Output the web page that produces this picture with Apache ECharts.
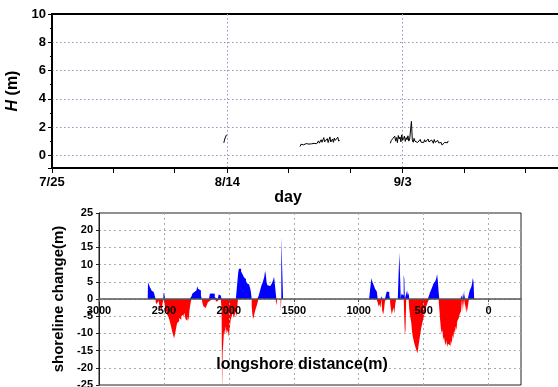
<!DOCTYPE html>
<html>
<head>
<meta charset="utf-8">
<script src="https://cdn.jsdelivr.net/npm/echarts@6/dist/echarts.min.js"></script>
<style>
  html, body { margin: 0; padding: 0; background: #fff; }
  #chart { width: 558px; height: 387px; }
</style>
</head>
<body>
<div id="chart"></div>
<script>
// ---- wave height (day 0 = 7/25), samples every 0.1 day ----
const dayTicks = [0, 20, 40, 60];
const dayLabels = ['7/25', '8/14', '9/3', '9/23'];
const dayMinorTicks = [0, 7, 14, 20, 27, 34, 40, 47, 54, 60];
const sampleStep = 0.1;
const seg1Start = 19.6;
const seg1H = [0.88, 1.15, 1.05, 1.45];
const seg2Start = 28.3;
const seg2H = [0.62, 0.78, 0.70, 0.85, 0.74, 0.80, 0.68, 0.83, 0.77, 0.90,
  0.79, 0.72, 0.86, 0.81, 0.75, 0.92, 0.84, 0.78, 0.95, 0.82,
  0.88, 1.02, 0.86, 0.80, 1.10, 0.92, 0.85, 1.25, 0.95, 0.88,
  1.05, 1.18, 0.90, 1.00, 1.30, 0.94, 0.98, 1.15, 0.92, 1.22,
  1.05, 0.96, 1.12, 1.28, 1.00, 1.08];
const seg3Start = 38.6;
const seg3H = [0.85, 1.05, 0.95, 1.20, 1.10, 1.35, 1.00, 1.25, 0.90, 1.40,
  1.15, 1.30, 0.95, 1.45, 1.05, 1.20, 1.35, 0.98, 1.25, 1.10,
  1.38, 1.00, 1.15, 1.05, 2.40, 1.10, 0.92, 1.20, 1.00, 0.95,
  1.08, 0.90, 1.02, 0.96, 1.12, 0.93, 0.98, 1.05, 0.90, 1.10,
  0.94, 1.00, 0.88, 1.15, 0.95, 1.02, 0.90, 1.08, 0.98, 0.85,
  1.12, 0.92, 0.96, 0.80, 1.05, 0.88, 0.95, 0.78, 0.90, 0.72,
  0.85, 0.75, 0.92, 0.82, 0.95, 0.88, 1.02];

// ---- shoreline change along the coast ----
const shoreDist = [2625, 2620, 2612, 2605, 2598, 2590, 2582, 2575, 2568, 2560,
  2552, 2545, 2538, 2530, 2522, 2515, 2508, 2500, 2493, 2487,
  2480, 2470, 2460, 2450, 2440, 2432, 2425, 2418, 2410, 2402,
  2395, 2387, 2378, 2370, 2362, 2354, 2346, 2338, 2330, 2322,
  2314, 2306, 2298, 2290, 2285, 2278, 2270, 2262, 2254, 2246,
  2240, 2234, 2226, 2218, 2212, 2205, 2198, 2190, 2182, 2174,
  2166, 2158, 2150, 2142, 2135, 2128, 2120, 2112, 2105, 2098,
  2090, 2082, 2074, 2066, 2058, 2054, 2050, 2046, 2040, 2034,
  2028, 2020, 2012, 2004, 1996, 1990, 1982, 1974, 1966, 1958,
  1950, 1942, 1934, 1931, 1926, 1920, 1915, 1909, 1902, 1895,
  1888, 1880, 1872, 1864, 1856, 1848, 1840, 1833, 1827, 1821,
  1816, 1811, 1805, 1798, 1790, 1782, 1775, 1768, 1760, 1752,
  1745, 1738, 1730, 1724, 1718, 1712, 1706, 1700, 1692, 1685,
  1678, 1670, 1662, 1655, 1648, 1642, 1637, 1631, 1625, 1602,
  1598, 1594, 1586, 1579, 1575, 920, 910, 904, 898, 892,
  885, 878, 871, 864, 857, 850, 843, 836, 829, 822,
  815, 808, 801, 794, 787, 781, 775, 768, 761, 755,
  748, 742, 736, 729, 722, 715, 708, 690, 684, 679,
  673, 668, 662, 656, 651, 647, 642, 637, 631, 624,
  618, 613, 608, 603, 598, 592, 586, 580, 574, 568,
  562, 556, 550, 545, 540, 534, 528, 522, 516, 510,
  504, 498, 492, 486, 480, 474, 468, 462, 455, 448,
  441, 434, 427, 420, 413, 406, 399, 393, 387, 382,
  376, 370, 364, 358, 352, 346, 340, 334, 328, 322,
  316, 310, 304, 298, 292, 286, 280, 274, 268, 262,
  256, 250, 244, 238, 232, 226, 220, 214, 208, 205,
  202, 199, 196, 193, 190, 187, 184, 181, 178, 172,
  166, 160, 154, 148, 142, 136, 130, 124, 118, 113,
  108, 100];
const shoreChange = [0, 4.8, 4.2, 3.5, 3.0, 2.4, 2.0, 1.8, 1.5, -0.8,
  -1.5, -1.0, -0.5, -2.0, -2.8, -3.5, -1.5, 1.8, 1.2, -2.5,
  -3.5, -4.5, -5.2, -6.5, -8, -9.5, -10.5, -11.5, -10, -8.5,
  -7, -6.5, -5.5, -6, -5, -4.5, -5.5, -4, -5.8, -6.3,
  -5, -6.2, -3, -1, 0.8, 1.5, 1.3, 2.0, 2.5, 2.8,
  3.7, 3.0, 2.6, 2.5, 1.0, -0.5, -1.5, -2.2, -2.6, -2.4,
  -1.8, -1.0, -0.5, 1.5, 1.4, 1.6, 1.2, 1.5, 0.5, -0.5,
  -0.8, -0.3, 1.3, 1.0, 1.2, -3, -27, -15.6, -13, -9,
  -10.5, -8, -10, -9, -11, -10.8, -6, -5, -4, -5.5,
  -4.5, -3.6, -5.2, -1, 7.5, 8.8, 9.2, 8.8, 8.0, 7.6,
  7.0, 6.3, 5.8, 5.2, 4.6, 4.2, 3.7, 3.2, 2.0, -2,
  -4.5, -5.8, -5.2, -4, -3, -2, -1, 0.8, 1.8, 3.0,
  4.0, 4.6, 5.5, 6.5, 8.2, 7.0, 4.8, 4.0, 4.5, 3.8,
  4.2, 4.4, 4.2, 5.5, 6.5, 6.8, 7.0, -1.9, 0, 0,
  -3.6, 18.1, 18.1, 0, 0, 0, 0, 4.5, 6.1, 5.0,
  4.5, 3.8, 3.0, 2.5, 2.2, -1, -2.2, -1.5, -2.6, 0.8,
  -3.5, -4.5, -3, -0.5, 1.2, 2.2, 2.4, 2.0, 1.0, -1,
  -3, -4.5, -4.0, -2.5, -4.2, -1.5, 0, 0, 13.5, 14.0,
  0, 1.5, 2.0, 1.0, 7.0, 6.0, -10.3, -9.0, 1.5, 2.5,
  1.0, 1.8, -3, -4.5, -5, -7, -9.5, -11, -12, -13,
  -13.5, -14.5, -15, -15.8, -14.5, -13, -11.5, -10, -8.5, -7.5,
  -6.5, -5.5, -4.5, -3.5, -2.5, -2, -1.2, -0.5, 1.0, 1.8,
  2.5, 3.0, 3.8, 4.5, 4.0, 5.2, 6.0, 7.3, 5.0, 2.0,
  -3, -6, -8.5, -10, -9, -12, -11, -12.5, -13.5, -12,
  -14, -13, -12.5, -13.5, -14.2, -12, -13, -10.5, -11.5, -9,
  -10, -8, -9, -6.5, -7, -5.5, -4.5, -5, -3.5, 1.0,
  -4, 1.5, -2.5, 2.0, -3, 2.7, -2, 1.2, -3.5, -1.5,
  -4, -3, -1.5, 1.5, 2.5, 3.0, 3.5, 4.5, 6.1, 5.0,
  0, 0];

const FONT = 'Liberation Sans, Arial, sans-serif';

function toPairs(start, vals) {
  return vals.map((v, i) => [+(start + i * sampleStep).toFixed(2), v]);
}

const posData = shoreDist.map((d, i) => [d, Math.max(shoreChange[i], 0)]);
const negData = shoreDist.map((d, i) => [d, Math.min(shoreChange[i], 0)]);

const labelStyle = { color: '#000', fontWeight: 'bold', fontFamily: FONT };

const chart = echarts.init(document.getElementById('chart'));
const option = {
  animation: false,
  textStyle: { fontFamily: FONT },
  grid: [
    { left: 52, top: 14, right: -20, bottom: 219, show: true, borderColor: '#000', borderWidth: 2,
      containLabel: false, outerBoundsMode: 'none' },
    { left: 99, top: 213, right: 37, bottom: 2, show: true, borderColor: '#222', borderWidth: 1,
      containLabel: false, outerBoundsMode: 'none' }
  ],
  xAxis: [
    {
      gridIndex: 0, type: 'value', min: 0, max: 60, interval: 20,
      axisLine: { onZero: false, lineStyle: { color: '#000', width: 1.5 } },
      axisTick: { show: true, length: 5, lineStyle: { color: '#000' } },
      axisLabel: Object.assign({ fontSize: 13, margin: 8,
        formatter: v => dayLabels[dayTicks.indexOf(v)] || '' }, labelStyle),
      splitLine: { show: true, showMinLine: false, showMaxLine: false,
        lineStyle: { color: '#8f96c0', type: [1.5, 2.5] } },
      name: 'day', nameLocation: 'middle', nameGap: 21,
      nameTextStyle: { color: '#000', fontWeight: 'bold', fontSize: 16, padding: [0, 54, 0, 0] }
    },
    {
      // axis line sits on y = 0 (86 px above the plot bottom)
      gridIndex: 1, type: 'value', min: -250, max: 3000, inverse: true, splitNumber: 6,
      offset: -86, z: 5,
      axisLine: { onZero: false, lineStyle: { color: '#555', width: 1.5 } },
      axisTick: { show: true, length: 3, lineStyle: { color: '#555' } },
      axisLabel: Object.assign({ fontSize: 11, margin: 6, showMinLabel: false,
        formatter: v => String(v) }, labelStyle),
      splitLine: { show: true, showMinLine: false, showMaxLine: false,
        lineStyle: { color: '#aaa', type: [2, 3] } },
      name: 'longshore distance(m)', nameLocation: 'middle', nameGap: 58,
      nameTextStyle: { color: '#000', fontWeight: 'bold', fontSize: 16, padding: [0, 16, 0, 0] }
    },
    {
      // weekly ticks on the day axis
      gridIndex: 0, type: 'value', min: 0, max: 60, position: 'bottom',
      axisLine: { show: false, onZero: false },
      axisTick: { show: true, customValues: dayMinorTicks, length: 5, lineStyle: { color: '#000' } },
      axisLabel: { show: false },
      splitLine: { show: false }
    }
  ],
  yAxis: [
    {
      gridIndex: 0, type: 'value', min: -0.9, max: 10, splitNumber: 5,
      axisLine: { show: true, onZero: false, lineStyle: { color: '#000', width: 1.5 } },
      axisTick: { show: true, length: 4, lineStyle: { color: '#000' } },
      minorTick: { show: true, splitNumber: 2, length: 2, lineStyle: { color: '#000' } },
      axisLabel: Object.assign({ fontSize: 13, margin: 6, showMinLabel: false,
        formatter: v => String(v) }, labelStyle),
      splitLine: { show: true, showMinLine: false, showMaxLine: false,
        lineStyle: { color: '#8f96c0', type: [1.5, 2.5] } },
      name: '{i|H} (m)', nameLocation: 'middle', nameGap: 24,
      nameTextStyle: { color: '#000', fontWeight: 'bold', fontSize: 16,
        rich: { i: { fontStyle: 'italic', fontWeight: 'bold', fontSize: 16, color: '#000' } } }
    },
    {
      gridIndex: 1, type: 'value', min: -25, max: 25, interval: 5,
      axisLine: { show: true, onZero: false, lineStyle: { color: '#222' } },
      axisTick: { show: true, length: 3, lineStyle: { color: '#222' } },
      axisLabel: Object.assign({ fontSize: 11, margin: 6, formatter: v => String(v) }, labelStyle),
      splitLine: { show: true, showMinLine: false, showMaxLine: false,
        lineStyle: { color: '#aaa', type: [2, 3] } },
      name: 'shoreline change(m)', nameLocation: 'middle', nameGap: 26,
      nameTextStyle: { color: '#000', fontWeight: 'bold', fontSize: 15 }
    }
  ],
  series: [
    { type: 'line', xAxisIndex: 0, yAxisIndex: 0, data: toPairs(seg1Start, seg1H),
      showSymbol: false, lineStyle: { color: '#000', width: 1 } },
    { type: 'line', xAxisIndex: 0, yAxisIndex: 0, data: toPairs(seg2Start, seg2H),
      showSymbol: false, lineStyle: { color: '#000', width: 1 } },
    { type: 'line', xAxisIndex: 0, yAxisIndex: 0, data: toPairs(seg3Start, seg3H),
      showSymbol: false, lineStyle: { color: '#000', width: 1 } },
    { type: 'line', xAxisIndex: 1, yAxisIndex: 1, data: posData, step: 'middle',
      showSymbol: false, color: '#0000ff', lineStyle: { width: 0 },
      areaStyle: { color: '#0000ff', opacity: 1 } },
    { type: 'line', xAxisIndex: 1, yAxisIndex: 1, data: negData, step: 'middle',
      showSymbol: false, color: '#ff0000', lineStyle: { width: 0 },
      areaStyle: { color: '#ff0000', opacity: 1 } }
  ]
};
chart.setOption(option);
</script>
</body>
</html>
